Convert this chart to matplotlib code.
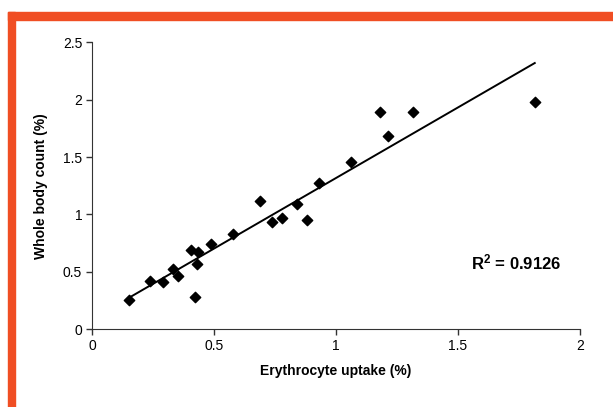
import numpy as np
import matplotlib
matplotlib.use("Agg")
import matplotlib.pyplot as plt
from matplotlib.patches import Rectangle

# data
uptake = [0.152, 0.239, 0.292, 0.333, 0.354, 0.407, 0.436, 0.432, 0.424, 0.486,
          0.580, 0.687, 0.740, 0.778, 0.840, 0.880, 0.930, 1.060, 1.180, 1.214,
          1.317, 1.815]
body_count = [0.25, 0.418, 0.41, 0.52, 0.46, 0.69, 0.67, 0.566, 0.28, 0.74,
              0.83, 1.12, 0.93, 0.967, 1.09, 0.95, 1.27, 1.455, 1.89, 1.68,
              1.89, 1.98]
x_ticks = [0, 0.5, 1, 1.5, 2]
y_ticks = [0, 0.5, 1, 1.5, 2, 2.5]
r2_text = r"$\mathbf{R^2}$ = 0.9126"

plt.rcParams['font.family'] = ['Liberation Sans', 'DejaVu Sans']
plt.rcParams['mathtext.fontset'] = 'custom'
plt.rcParams['mathtext.rm'] = 'Liberation Sans:bold'
plt.rcParams['mathtext.bf'] = 'Liberation Sans:bold'

fig = plt.figure(figsize=(6.13, 4.07), dpi=100)
ax = fig.add_axes([0.150, 0.1916, 0.796, 0.7044])

# orange frame on top and left
ORANGE = "#F04E23"
fig.patches.append(Rectangle((8 / 613, 1 - 20 / 407), 1, 8 / 407,
                             transform=fig.transFigure, color=ORANGE, zorder=0))
fig.patches.append(Rectangle((8 / 613, 0), 7 / 613, 1 - 12 / 407,
                             transform=fig.transFigure, color=ORANGE, zorder=0))

ax.scatter(uptake, body_count, marker="D", s=28, color="black", zorder=3)

# linear trendline
slope, intercept = np.polyfit(uptake, body_count, 1)
xs = np.array([min(uptake), max(uptake)])
ax.plot(xs, slope * xs + intercept, color="black", linewidth=1.4, zorder=2)

ax.set_xlim(0, 2)
ax.set_ylim(0, 2.5)
ax.set_xticks(x_ticks)
ax.set_xticklabels(["0", "0.5", "1", "1.5", "2"])
ax.set_yticks(y_ticks)
ax.set_yticklabels(["0", "0.5", "1", "1.5", "2", "2.5"])
ax.tick_params(labelsize=10, length=4, width=1, color="#333333", pad=3)
for side in ["top", "right"]:
    ax.spines[side].set_visible(False)
for side in ["left", "bottom"]:
    ax.spines[side].set_color("#333333")

ax.set_xlabel("Erythrocyte uptake (%)", fontsize=10, fontweight="bold", labelpad=8)
ax.set_ylabel("Whole body count (%)", fontsize=10, fontweight="bold", labelpad=11)

ax.text(1.555, 0.58, r2_text, fontsize=12, fontweight="bold", ha="left", va="center")

fig.savefig("out.png", dpi=100)
